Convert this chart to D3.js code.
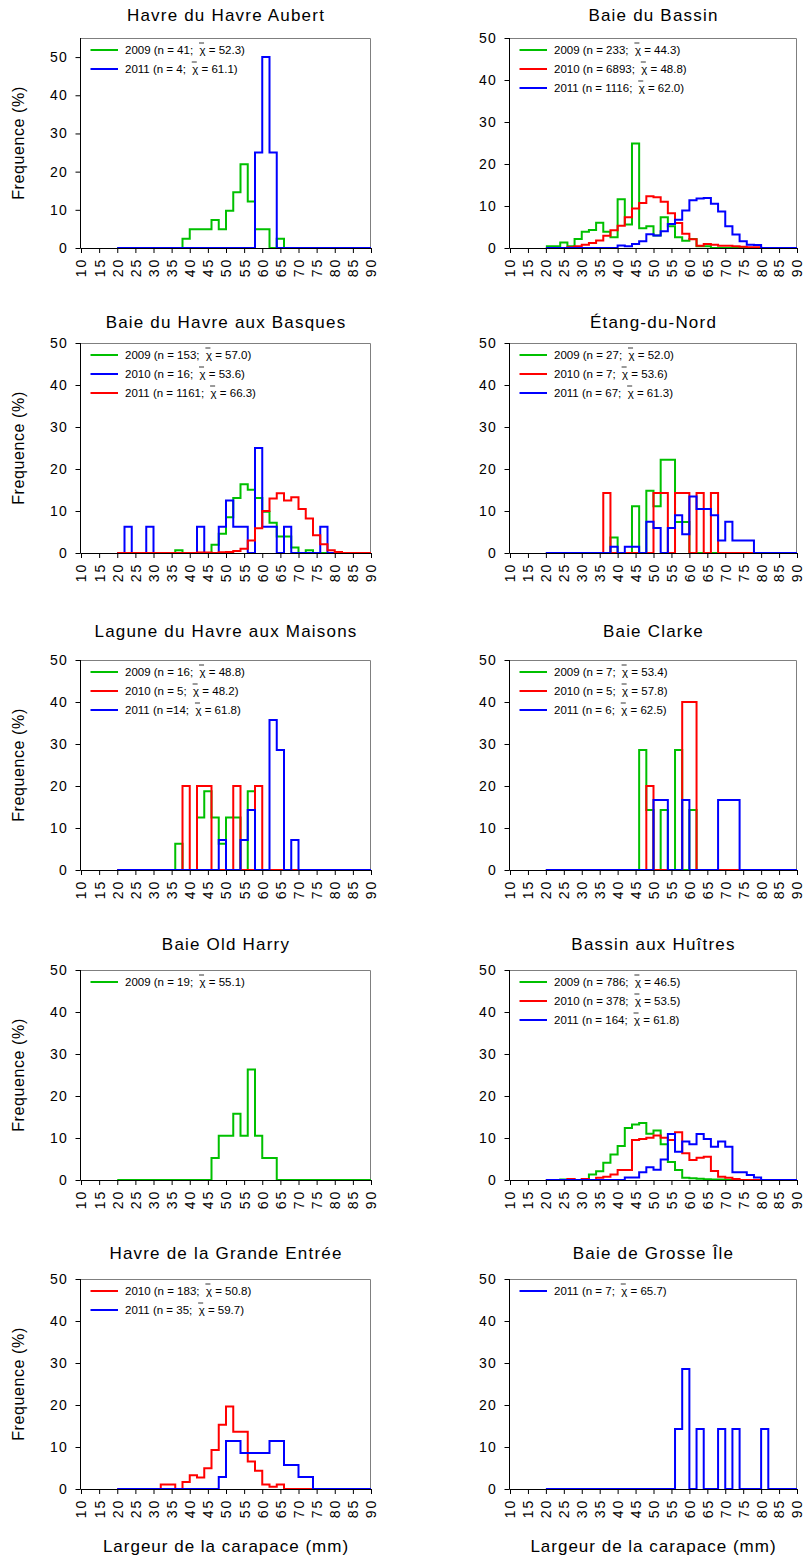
<!DOCTYPE html>
<html><head><meta charset="utf-8">
<script src="https://cdn.jsdelivr.net/npm/d3@7"></script>
<style>
body{margin:0;background:#fff}
svg{display:block}
text{font-family:"Liberation Sans",Arial,sans-serif;fill:#000}
</style>
</head><body>
<svg id="c" width="806" height="1559"></svg>
<script>
// ---------- categories / ticks ----------
const binEdges = [20,22,24,26,28,30,32,34,36,38,40,42,44,46,48,50,52,54,56,58,60,62,64,66,68,70,72,74,76,78,80,82,84,86,88,90];
const xTicks = [10,15,20,25,30,35,40,45,50,55,60,65,70,75,80,85,90];
const yTicks = [0,10,20,30,40,50];
const titles = ["Havre du Havre Aubert","Baie du Bassin","Baie du Havre aux Basques","Étang-du-Nord",
  "Lagune du Havre aux Maisons","Baie Clarke","Baie Old Harry","Bassin aux Huîtres",
  "Havre de la Grande Entrée","Baie de Grosse Île"];
const yLabel = "Frequence (%)";
const xLabel = "Largeur de la carapace (mm)";
const yearColors = {"2009":"#00c000","2010":"#ff0000","2011":"#0000ff"};

// ---------- series values (% per 2-mm class, classes 20-22 ... 88-90) ----------
const aubert2009 = [0,0,0,0,0,0,0,0,0,2.44,4.88,4.88,4.88,7.32,4.88,9.76,14.63,21.95,12.2,4.88,4.88,0,2.44,0,0,0,0,0,0,0,0,0,0,0,0];
const aubert2011 = [0,0,0,0,0,0,0,0,0,0,0,0,0,0,0,0,0,0,0,25,50,25,0,0,0,0,0,0,0,0,0,0,0,0,0];

const bassin2009 = [0.43,0.43,1.29,0.43,2.15,3.86,4.29,6.01,3.86,2.58,11.59,5.58,24.89,4.72,5.15,3.0,7.3,5.15,2.58,1.72,2.15,0.43,0.43,0,0,0,0,0,0,0,0,0,0,0,0];
const bassin2010 = [0,0,0,0.15,0.4,0.8,1.2,1.8,2.9,4.2,5.3,7.3,9.4,10.7,12.3,12.1,11.0,8.3,5.95,3.4,2.1,0.55,0.95,0.8,0.55,0.55,0.4,0.3,0.2,0.15,0,0,0,0,0];
const bassin2011 = [0,0,0,0,0,0,0,0,0,0,0.6,0.4,0.95,1.6,3.3,3.0,4.0,5.7,6.75,8.9,11.35,11.8,11.9,10.55,8.7,5.2,3.2,1.6,0.8,0.7,0,0,0,0,0];

const basques2009 = [0,0,0,0,0,0,0,0,0.65,0,0,0,0,1.96,4.58,8.5,13.07,16.34,15.03,13.07,9.8,7.19,3.92,3.92,1.31,0,0.65,0,0,0,0,0,0,0,0];
const basques2010 = [0,6.25,0,0,6.25,0,0,0,0,0,0,6.25,0,0,6.25,12.5,6.25,6.25,0,25,6.25,6.25,0,6.25,0,0,0,0,6.25,0,0,0,0,0,0];
const basques2011 = [0,0,0,0,0,0,0,0,0,0,0,0.1,0.1,0,0.2,0.25,0.5,1.0,3.0,5.9,10.0,13.0,14.2,12.5,13.3,10.5,8.2,4.2,2.1,0.65,0.25,0,0,0,0];

const nord2009 = [0,0,0,0,0,0,0,0,0,3.7,0,0,11.11,0,14.81,11.11,22.22,22.22,7.41,7.41,0,0,0,0,0,0,0,0,0,0,0,0,0,0,0];
const nord2010 = [0,0,0,0,0,0,0,0,14.29,0,0,0,0,0,0,14.29,14.29,0,14.29,14.29,0,14.29,0,14.29,0,0,0,0,0,0,0,0,0,0,0];
const nord2011 = [0,0,0,0,0,0,0,0,0,1.49,0,1.49,1.49,0,7.46,5.97,0,5.97,8.96,4.48,13.43,10.45,10.45,8.96,2.99,7.46,2.99,2.99,2.99,0,0,0,0,0,0];

const maisons2009 = [0,0,0,0,0,0,0,0,6.25,0,0,12.5,18.75,12.5,6.25,12.5,12.5,0,18.75,0,0,0,0,0,0,0,0,0,0,0,0,0,0,0,0];
const maisons2010 = [0,0,0,0,0,0,0,0,0,20,0,20,20,0,0,0,20,0,0,20,0,0,0,0,0,0,0,0,0,0,0,0,0,0,0];
const maisons2011 = [0,0,0,0,0,0,0,0,0,0,0,0,0,0,7.14,0,0,7.14,14.29,0,0,35.71,28.57,0,7.14,0,0,0,0,0,0,0,0,0,0];

const clarke2009 = [0,0,0,0,0,0,0,0,0,0,0,0,0,28.57,14.29,0,14.29,0,28.57,0,14.29,0,0,0,0,0,0,0,0,0,0,0,0,0,0];
const clarke2010 = [0,0,0,0,0,0,0,0,0,0,0,0,0,0,20,0,0,0,0,40,40,0,0,0,0,0,0,0,0,0,0,0,0,0,0];
const clarke2011 = [0,0,0,0,0,0,0,0,0,0,0,0,0,0,0,16.67,16.67,0,0,16.67,0,0,0,0,16.67,16.67,16.67,0,0,0,0,0,0,0,0];

const harry2009 = [0,0,0,0,0,0,0,0,0,0,0,0,0,5.26,10.53,10.53,15.79,10.53,26.32,10.53,5.26,5.26,0,0,0,0,0,0,0,0,0,0,0,0,0];

const huitres2009 = [0,0,0.13,0.13,0,0.13,1.3,2.1,4.1,6.1,8.1,12.4,13.2,13.6,11.0,11.8,8.5,4.3,2.4,0.55,0.4,0.3,0.15,0.1,0.13,0,0,0,0,0,0,0,0,0,0];
const huitres2010 = [0,0,0,0.26,0,0.26,0,0.53,0.79,1.32,2.38,2.38,9.52,9.79,10.05,10.58,10.05,9.5,11.38,6.35,4.76,5.29,5.56,2.12,0.79,0.53,0.26,0,0,0,0,0,0,0,0];
const huitres2011 = [0,0,0,0,0,0,0,0,0,0,0,0.61,0.61,1.83,3.05,2.44,4.88,10.98,6.71,9.15,8.54,10.98,9.76,7.93,9.15,7.93,1.83,1.83,1.22,0.61,0,0,0,0,0];

const entree2010 = [0,0,0,0,0,0,1.09,1.09,0,1.64,3.28,2.73,4.92,9.29,15.3,19.67,13.66,13.66,6.56,4.37,1.09,0.55,1.09,0,0,0,0,0,0,0,0,0,0,0,0];
const entree2011 = [0,0,0,0,0,0,0,0,0,0,0,0,0,0,2.86,11.43,11.43,8.57,8.57,8.57,8.57,11.43,11.43,5.71,5.71,2.86,2.86,0,0,0,0,0,0,0,0];

const grosse2011 = [0,0,0,0,0,0,0,0,0,0,0,0,0,0,0,0,0,0,14.29,28.57,0,14.29,0,0,14.29,0,14.29,0,0,0,14.29,0,0,0,0];

// legend labels (prefix, mean)
const legAubert  = [["2009 (n = 41;  ","52.3"],["2011 (n = 4;  ","61.1"]];
const legBassin  = [["2009 (n = 233;  ","44.3"],["2010 (n = 6893;  ","48.8"],["2011 (n = 1116;  ","62.0"]];
const legBasques = [["2009 (n = 153;  ","57.0"],["2010 (n = 16;  ","53.6"],["2011 (n = 1161;  ","66.3"]];
const legNord    = [["2009 (n = 27;  ","52.0"],["2010 (n = 7;  ","53.6"],["2011 (n = 67;  ","61.3"]];
const legMaisons = [["2009 (n = 16;  ","48.8"],["2010 (n = 5;  ","48.2"],["2011 (n =14;  ","61.8"]];
const legClarke  = [["2009 (n = 7;  ","53.4"],["2010 (n = 5;  ","57.8"],["2011 (n = 6;  ","62.5"]];
const legHarry   = [["2009 (n = 19;  ","55.1"]];
const legHuitres = [["2009 (n = 786;  ","46.5"],["2010 (n = 378;  ","53.5"],["2011 (n = 164;  ","61.8"]];
const legEntree  = [["2010 (n = 183;  ","50.8"],["2011 (n = 35;  ","59.7"]];
const legGrosse  = [["2011 (n = 7;  ","65.7"]];

// ---------- panel table built from the arrays ----------
const panels = [
  {title:titles[0], col:0,row:0,ymax:55, years:["2009","2011"], vals:[aubert2009,aubert2011], leg:legAubert},
  {title:titles[1], col:1,row:0,ymax:50, years:["2009","2010","2011"], vals:[bassin2009,bassin2010,bassin2011], leg:legBassin},
  {title:titles[2], col:0,row:1,ymax:50, years:["2009","2011","2010"], vals:[basques2009,basques2010,basques2011], leg:legBasques},
  {title:titles[3], col:1,row:1,ymax:50, years:["2009","2010","2011"], vals:[nord2009,nord2010,nord2011], leg:legNord},
  {title:titles[4], col:0,row:2,ymax:50, years:["2009","2010","2011"], vals:[maisons2009,maisons2010,maisons2011], leg:legMaisons},
  {title:titles[5], col:1,row:2,ymax:50, years:["2009","2010","2011"], vals:[clarke2009,clarke2010,clarke2011], leg:legClarke},
  {title:titles[6], col:0,row:3,ymax:50, years:["2009"], vals:[harry2009], leg:legHarry},
  {title:titles[7], col:1,row:3,ymax:50, years:["2009","2010","2011"], vals:[huitres2009,huitres2010,huitres2011], leg:legHuitres},
  {title:titles[8], col:0,row:4,ymax:50, years:["2010","2011"], vals:[entree2010,entree2011], leg:legEntree},
  {title:titles[9], col:1,row:4,ymax:50, years:["2011"], vals:[grosse2011], leg:legGrosse}
];

// ---------- layout ----------
const colLeft = [81, 510];
const colW = [290, 287];
const rowTop = [38, 343, 660, 970, 1279];
const plotH = 210;
const titleBase = [21, 328, 637, 950, 1259];

const svg = d3.select("#c");

panels.forEach(p => {
  const L = colLeft[p.col], T = rowTop[p.row], B = T + plotH, R = L + colW[p.col];
  const x = d3.scaleLinear().domain([10, 90]).range([L, R]);
  const y = d3.scaleLinear().domain([0, p.ymax]).range([B, T]);
  const g = svg.append("g");

  // title
  g.append("text").attr("x", (L + R) / 2).attr("y", titleBase[p.row])
    .attr("text-anchor", "middle").style("font-size", "17px").style("letter-spacing", "1.2px")
    .text(p.title);

  // frame (top/right grey)
  g.append("path").attr("d", `M${L},${T+0.5}H${R-0.5}V${B}`)
    .attr("fill", "none").attr("stroke", "#7f7f7f").attr("stroke-width", 1);

  // series
  const line = d3.line().x(d => x(d[0])).y(d => y(d[1])).curve(d3.curveStepAfter);
  p.vals.forEach((v, i) => {
    const pts = binEdges.map((e, k) => [e, v[Math.min(k, v.length - 1)]]);
    g.append("path").attr("d", line(pts)).attr("fill", "none")
      .attr("stroke", yearColors[p.years[i]]).attr("stroke-width", 2);
  });

  // axes
  const ya = d3.axisLeft(y).tickValues(yTicks).tickSize(5).tickSizeOuter(0).tickPadding(8);
  const ga = g.append("g").attr("transform", `translate(${L},0)`).call(ya);
  ga.select(".domain").attr("d", `M-0.5,${T}V${B}`).attr("stroke", "#000");
  ga.selectAll(".tick line").attr("transform", "translate(-0.5,0)");
  ga.selectAll("text").style("font-size", "14px").style("letter-spacing", "1.2px")
    .style("font-family", '"Liberation Sans",Arial,sans-serif');

  const xa = d3.axisBottom(x).tickValues(xTicks).tickSize(5).tickSizeOuter(0);
  const gx = g.append("g").attr("transform", `translate(0,${B})`).call(xa);
  gx.select(".domain").attr("d", `M${L-0.5},0.5H${R}`).attr("stroke", "#000");
  gx.selectAll(".tick text")
    .attr("transform", "translate(0,10) rotate(-90)")
    .attr("text-anchor", "end").attr("x", 0).attr("y", 0).attr("dy", "0.35em")
    .style("font-size", "14px").style("letter-spacing", "1.8px")
    .style("font-family", '"Liberation Sans",Arial,sans-serif');

  // legend
  p.leg.forEach((lg, i) => {
    const ly = T + 12 + i * 19;
    g.append("line").attr("x1", L + 9.5).attr("x2", L + 37).attr("y1", ly).attr("y2", ly)
      .attr("stroke", yearColors[p.years[i]]).attr("stroke-width", 2);
    const t = g.append("text").attr("x", L + 44).attr("y", ly + 4)
      .style("font-size", "11.5px").style("white-space", "pre");
    t.append("tspan").text(lg[0]);
    t.append("tspan").text("χ");
    t.append("tspan").text(" = " + lg[1] + ")");
    const node = t.node();
    const k = lg[0].length;
    const ext = node.getExtentOfChar(k);
    g.append("line").attr("x1", ext.x - 0.5).attr("x2", ext.x + ext.width * 0.75)
      .attr("y1", ly - 7).attr("y2", ly - 7).attr("stroke", "#000").attr("stroke-width", 0.8);
  });

  // y label (left column only)
  if (p.col === 0) {
    g.append("text").attr("transform", `translate(24,${(T + B) / 2}) rotate(-90)`)
      .attr("text-anchor", "middle").style("font-size", "16px").style("letter-spacing", "0.6px")
      .text(yLabel);
  }
});

// x labels
colLeft.forEach((L, c) => {
  svg.append("text").attr("x", L + colW[c] / 2).attr("y", 1552).attr("text-anchor", "middle")
    .style("font-size", "17px").style("letter-spacing", "1px").text(xLabel);
});
</script>
</body></html>
